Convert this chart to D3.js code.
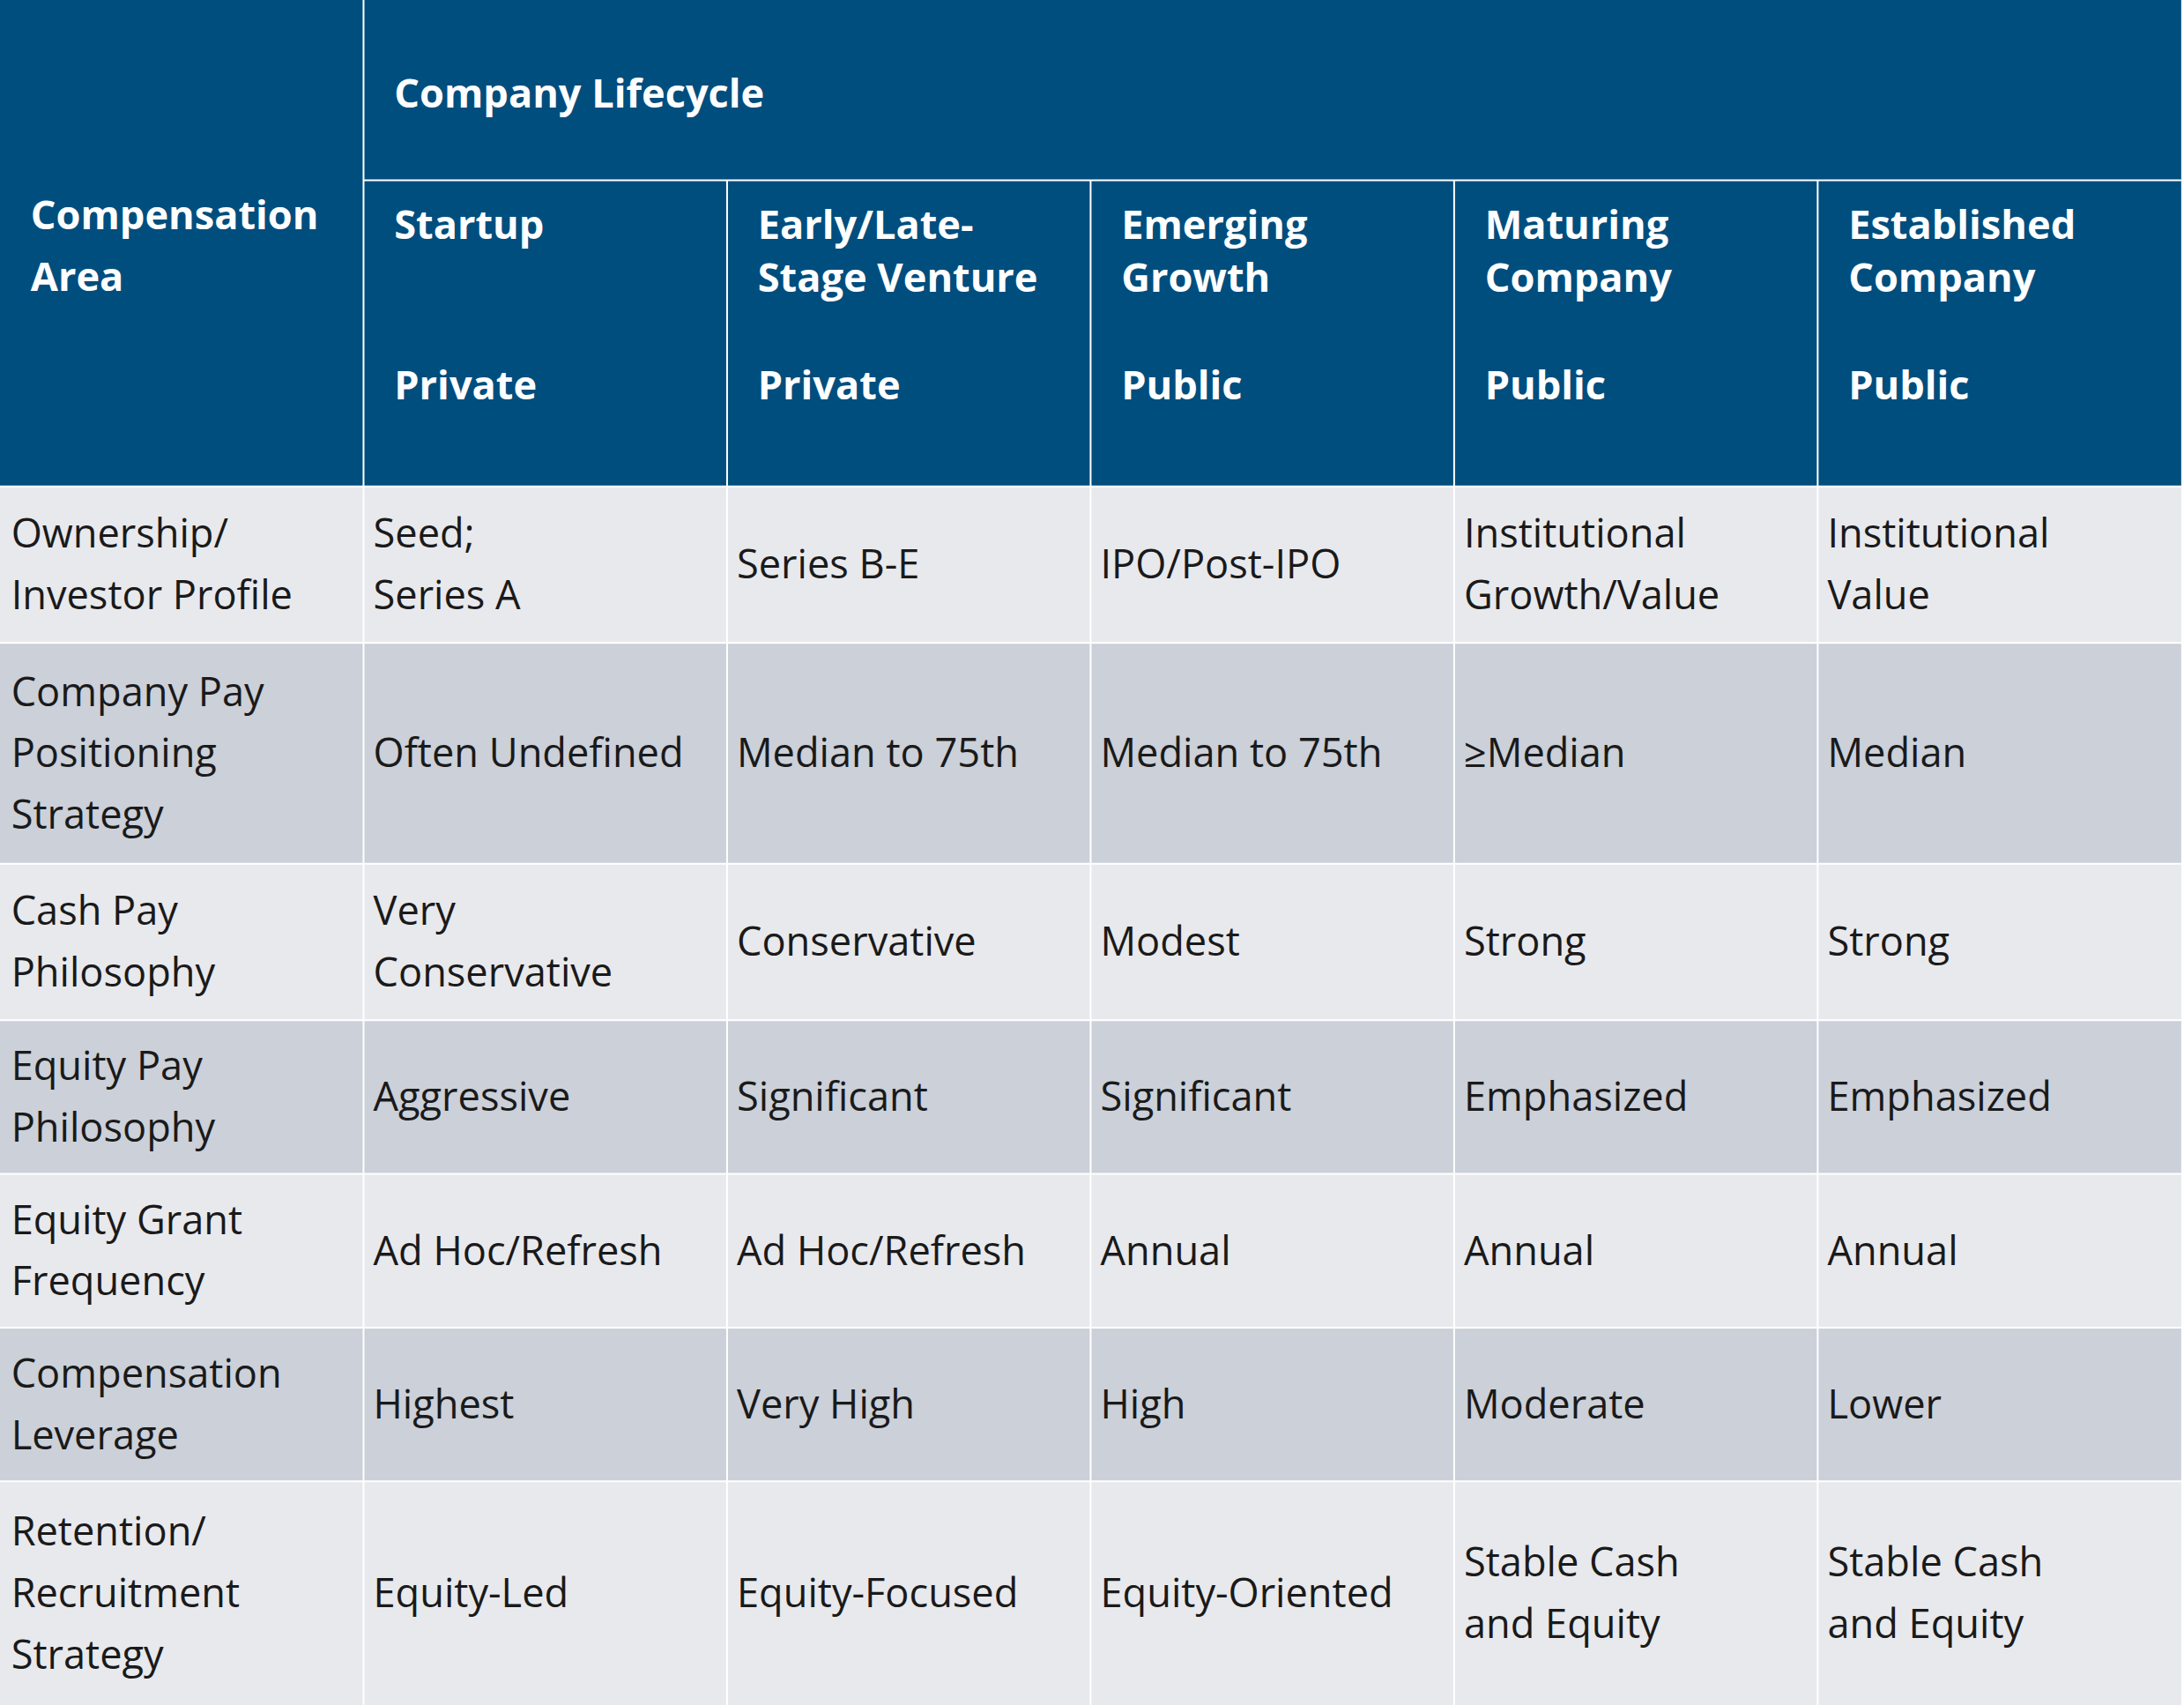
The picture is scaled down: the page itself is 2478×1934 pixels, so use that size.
<!DOCTYPE html>
<html><head><meta charset="utf-8">
<script src="https://cdn.jsdelivr.net/npm/d3@7"></script>
<style>body{margin:0;background:#fff}</style></head>
<body><svg id="c" width="2478" height="1934"></svg>
<script>
const groupTitle = "Company Lifecycle";
const areaTitle = ["Compensation", "Area"];
const stages = [["Startup"], ["Early/Late-", "Stage Venture"], ["Emerging", "Growth"], ["Maturing", "Company"], ["Established", "Company"]];
const ownership = ["Private", "Private", "Public", "Public", "Public"];
const areas = [["Ownership/", "Investor Profile"], ["Company Pay", "Positioning", "Strategy"], ["Cash Pay", "Philosophy"], ["Equity Pay", "Philosophy"], ["Equity Grant", "Frequency"], ["Compensation", "Leverage"], ["Retention/", "Recruitment", "Strategy"]];
const cells = [
 [["Seed;", "Series A"], ["Series B-E"], ["IPO/Post-IPO"], ["Institutional", "Growth/Value"], ["Institutional", "Value"]],
 [["Often Undefined"], ["Median to 75th"], ["Median to 75th"], ["≥Median"], ["Median"]],
 [["Very", "Conservative"], ["Conservative"], ["Modest"], ["Strong"], ["Strong"]],
 [["Aggressive"], ["Significant"], ["Significant"], ["Emphasized"], ["Emphasized"]],
 [["Ad Hoc/Refresh"], ["Ad Hoc/Refresh"], ["Annual"], ["Annual"], ["Annual"]],
 [["Highest"], ["Very High"], ["High"], ["Moderate"], ["Lower"]],
 [["Equity-Led"], ["Equity-Focused"], ["Equity-Oriented"], ["Stable Cash", "and Equity"], ["Stable Cash", "and Equity"]]
];
const rowBounds = [348, 460, 618, 730, 840, 950, 1060, 1220];

const sx = 2478/1568, sy = 1934/1220;
const svg = d3.select("#c");
const x = d3.scaleLinear().domain([0, 6]).range([0, 1566*sx]);
const y = d3.scaleLinear().domain([0, 1220]).range([0, 1934]);
const font = "'Open Sans', 'Noto Sans', sans-serif";
const fs = 28.5*sy, lh = 44*sy;
const HEAD = "#004E7E", L = "#E8E9ED", D = "#CBD0D9";

svg.append("rect").attr("x",0).attr("y",0).attr("width",x(6)).attr("height",y(348)).attr("fill",HEAD);
// header lines
svg.append("line").attr("x1",x(1)).attr("x2",x(6)).attr("y1",y(129)).attr("y2",y(129)).attr("stroke","#fff").attr("stroke-width",2);
for (let i=1;i<6;i++){
  svg.append("line").attr("x1",x(i)).attr("x2",x(i)).attr("y1",i==1?0:y(129)).attr("y2",y(348)).attr("stroke","#fff").attr("stroke-width",2);
}
function txt(lines, tx, cy, bold, color){
  const n = lines.length;
  const t = svg.append("text").attr("font-family",font).attr("font-size",fs).attr("font-weight",bold?700:400).attr("fill",color);
  lines.forEach((l,i)=>t.append("tspan").attr("x",tx).attr("y",cy+(i-(n-1)/2)*lh).attr("dy","0.35em").text(l));
}
txt([groupTitle], x(1)+22*sx, y(67), true, "#fff");
txt(areaTitle, 22*sx, y(176), true, "#fff");
stages.forEach((s,i)=>{
  const t = svg.append("text").attr("font-family",font).attr("font-size",fs).attr("font-weight",700).attr("fill","#fff");
  s.forEach((l,j)=>t.append("tspan").attr("x",x(i+1)+22*sx).attr("y",y(161)+j*38*sy).attr("dy","0.35em").text(l));
  txt([ownership[i]], x(i+1)+22*sx, y(276), true, "#fff");
});
areas.forEach((a,r)=>{
  const y0=y(rowBounds[r]), y1=y(rowBounds[r+1]), cy=(y0+y1)/2;
  svg.append("rect").attr("x",0).attr("y",y0).attr("width",x(6)).attr("height",y1-y0).attr("fill",r%2?D:L);
  txt(a, 8*sx, cy, false, "#1a1a1a");
  cells[r].forEach((c,i)=>txt(c, x(i+1)+7*sx, cy, false, "#1a1a1a"));
  svg.append("line").attr("x1",0).attr("x2",x(6)).attr("y1",y0).attr("y2",y0).attr("stroke","#fff").attr("stroke-width",2);
  for(let i=1;i<6;i++) svg.append("line").attr("x1",x(i)).attr("x2",x(i)).attr("y1",y0).attr("y2",y1).attr("stroke","#fff").attr("stroke-width",2);
});
</script></body></html>
